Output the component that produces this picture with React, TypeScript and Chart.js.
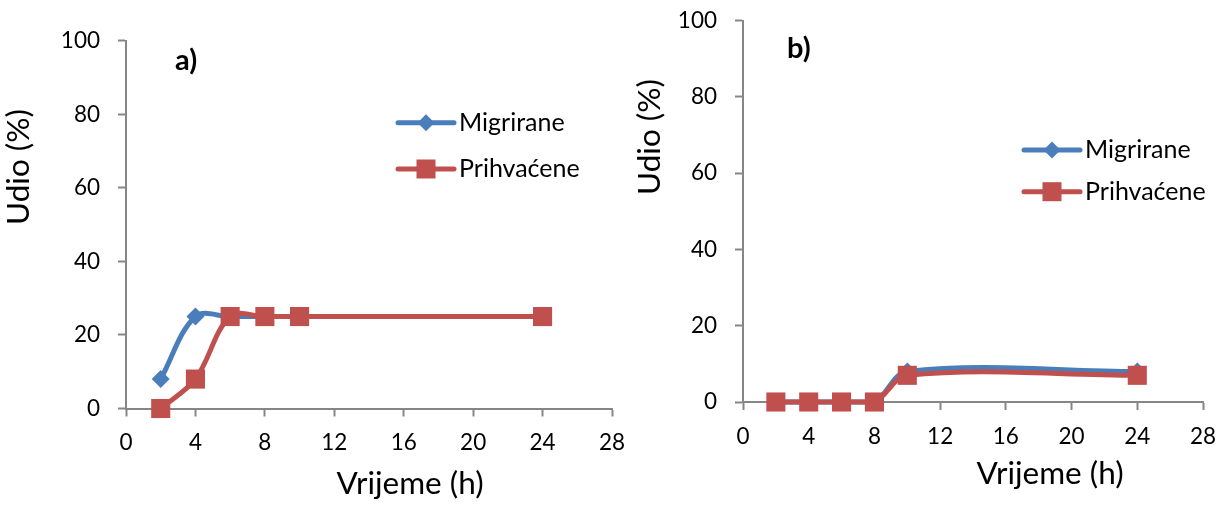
import React, { useEffect, useRef } from 'react';
import { Chart, registerables } from 'chart.js';

Chart.register(...registerables);

// ---------- data ----------
const hours = [2, 4, 6, 8, 10, 24];
const migriraneA = [8, 25, 25, 25, 25, 25];
const prihvaceneA = [0, 8, 25, 25, 25, 25];
const migriraneB = [0, 0, 0, 0, 8, 8];
const prihvaceneB = [0, 0, 0, 0, 7, 7];
const seriesNames = ['Migrirane', 'Prihvaćene'];
const panelLabels = ['a)', 'b)'];
const yAxisTitle = 'Udio (%)';
const xAxisTitle = 'Vrijeme (h)';
const xRange = [0, 28];
const xStep = 4;
const yRange = [0, 100];
const yStep = 20;

// ---------- styles ----------
const BLUE = '#4A7EBB';
const RED = '#C0504D';
const AXIS = '#868686';
const FONT = 'Lato';
const H = 516;

type Layout = {
  left: number;
  width: number;
  area: { left: number; right: number; top: number; bottom: number };
  label: { x: number; y: number };
  yTitle: { x: number; y: number };
  xTitle: { x: number; y: number };
  legend: { x0: number; x1: number; ys: number[]; textX: number };
};

const layouts: Layout[] = [
  {
    left: 0,
    width: 650,
    area: { left: 126, right: 612, top: 40.7, bottom: 408.5 },
    label: { x: 175, y: 70 },
    yTitle: { x: 29, y: 167 },
    xTitle: { x: 410, y: 494 },
    legend: { x0: 398, x1: 454, ys: [122.7, 169], textX: 459 },
  },
  {
    left: 620,
    width: 600,
    area: { left: 123, right: 583, top: 20.7, bottom: 402 },
    label: { x: 167, y: 58 },
    yTitle: { x: 40, y: 137 },
    xTitle: { x: 430, y: 484 },
    legend: { x0: 404, x1: 460, ys: [150, 191.7], textX: 465 },
  },
];

function drawDiamond(ctx: CanvasRenderingContext2D, x: number, y: number, r: number, c: string) {
  ctx.beginPath();
  ctx.moveTo(x - r, y);
  ctx.lineTo(x, y - r);
  ctx.lineTo(x + r, y);
  ctx.lineTo(x, y + r);
  ctx.closePath();
  ctx.fillStyle = c;
  ctx.fill();
}

function Panel({ idx, mig, pri }: { idx: number; mig: number[]; pri: number[] }) {
  const ref = useRef<HTMLCanvasElement | null>(null);
  const L = layouts[idx];
  useEffect(() => {
    if (!ref.current) return;
    const overlay = {
      id: 'overlay' + idx,
      afterDraw(chart: any) {
        const ctx: CanvasRenderingContext2D = chart.ctx;
        ctx.save();
        ctx.fillStyle = '#000';
        // panel label
        ctx.font = `bold 29px ${FONT}`;
        ctx.textAlign = 'left';
        ctx.textBaseline = 'alphabetic';
        ctx.fillText(panelLabels[idx], L.label.x, L.label.y);
        // x title
        ctx.font = `31.5px ${FONT}`;
        ctx.textAlign = 'center';
        ctx.fillText(xAxisTitle, L.xTitle.x, L.xTitle.y);
        // y title
        ctx.save();
        ctx.translate(L.yTitle.x, L.yTitle.y);
        ctx.rotate(-Math.PI / 2);
        ctx.fillText(yAxisTitle, 0, 0);
        ctx.restore();
        // legend
        const colors = [BLUE, RED];
        const cx = (L.legend.x0 + L.legend.x1) / 2;
        L.legend.ys.forEach((y, i) => {
          ctx.strokeStyle = colors[i];
          ctx.lineWidth = 5;
          ctx.lineCap = 'round';
          ctx.beginPath();
          ctx.moveTo(L.legend.x0, y);
          ctx.lineTo(L.legend.x1, y);
          ctx.stroke();
          if (i === 0) drawDiamond(ctx, cx, y, 8.5, BLUE);
          else {
            ctx.fillStyle = RED;
            ctx.fillRect(cx - 9.5, y - 9.5, 19, 19);
          }
          ctx.fillStyle = '#000';
          ctx.font = `25px ${FONT}`;
          ctx.textAlign = 'left';
          ctx.textBaseline = 'alphabetic';
          ctx.fillText(seriesNames[i], L.legend.textX, y + 8);
        });
        ctx.restore();
      },
    };
    const tickFont = { family: FONT, size: 22.5 };
    const chart = new Chart(ref.current, {
      type: 'line',
      data: {
        datasets: [
          {
            label: seriesNames[0],
            data: hours.map((h, i) => ({ x: h, y: mig[i] })),
            borderColor: BLUE,
            backgroundColor: BLUE,
            borderWidth: 5,
            borderCapStyle: 'round',
            borderJoinStyle: 'round',
            pointStyle: 'rectRot',
            pointRadius: 9,
            pointBorderWidth: 0,
            pointBackgroundColor: BLUE,
            tension: 0.35,
            clip: false,
            order: 2,
          },
          {
            label: seriesNames[1],
            data: hours.map((h, i) => ({ x: h, y: pri[i] })),
            borderColor: RED,
            backgroundColor: RED,
            borderWidth: 5,
            borderCapStyle: 'round',
            borderJoinStyle: 'round',
            pointStyle: 'rect',
            pointRadius: 13.5,
            pointBorderWidth: 0,
            pointBackgroundColor: RED,
            tension: 0.35,
            clip: false,
            order: 1,
          },
        ],
      } as any,
      options: {
        animation: false,
        responsive: false,
        devicePixelRatio: 1,
        events: [],
        layout: {
          padding: { left: 0, top: L.area.top, right: L.width - L.area.right, bottom: 0 },
        },
        plugins: { legend: { display: false }, tooltip: { enabled: false }, title: { display: false } },
        scales: {
          x: {
            type: 'linear',
            min: xRange[0],
            max: xRange[1],
            ticks: { stepSize: xStep, color: '#000', font: tickFont, padding: 13, maxRotation: 0, autoSkip: false },
            grid: { drawOnChartArea: false, drawTicks: true, tickLength: 8, color: AXIS, tickColor: AXIS, tickWidth: 2 },
            border: { color: AXIS, width: 2 },
            afterFit: (s: any) => {
              s.height = H - L.area.bottom;
              s.paddingLeft = 0;
              s.paddingRight = 0;
            },
          },
          y: {
            type: 'linear',
            min: yRange[0],
            max: yRange[1],
            ticks: { stepSize: yStep, color: '#000', font: tickFont, padding: 18 },
            grid: { drawOnChartArea: false, drawTicks: true, tickLength: 8, color: AXIS, tickColor: AXIS, tickWidth: 2 },
            border: { color: AXIS, width: 2 },
            afterFit: (s: any) => {
              s.width = L.area.left;
              s.paddingTop = 0;
              s.paddingBottom = 0;
            },
          },
        },
      } as any,
      plugins: [overlay],
    });
    return () => chart.destroy();
  }, []);
  return (
    <canvas
      ref={ref}
      width={L.width}
      height={H}
      style={{ position: 'absolute', left: L.left, top: 0, width: L.width, height: H }}
    />
  );
}

export default function App() {
  return (
    <div style={{ position: 'absolute', left: 0, top: 0, width: 1220, height: H, background: '#fff', overflow: 'hidden' }}>
      <Panel idx={0} mig={migriraneA} pri={prihvaceneA} />
      <Panel idx={1} mig={migriraneB} pri={prihvaceneB} />
    </div>
  );
}
